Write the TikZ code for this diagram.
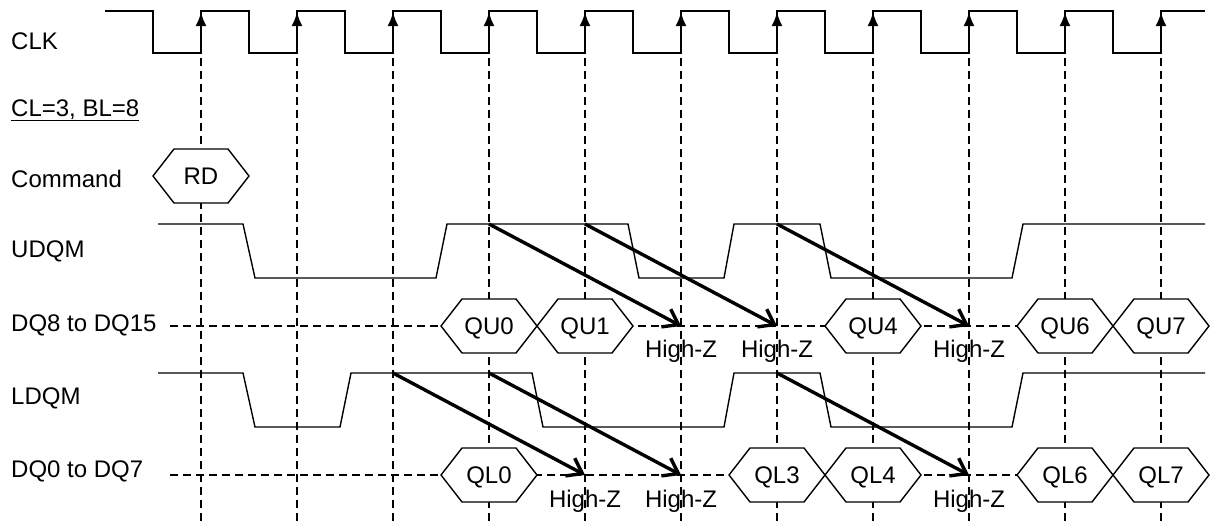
\documentclass[tikz,border=0pt]{standalone}
\usepackage{fontspec}
\setmainfont{Liberation Sans}
\usetikzlibrary{arrows.meta}
\newcommand\hexnode[4]{%
  \draw[hexb] ({#2-48},#3) -- ({#2-27},{#3-27}) -- ({#2+27},{#3-27}) -- ({#2+48},#3) -- ({#2+27},{#3+27}) -- ({#2-27},{#3+27}) -- cycle;
  \node[hext] (#1) at (#2,{#3+8}) {#4};}
\begin{document}
\begin{tikzpicture}[x=1pt,y=-1pt,
  clk/.style={line width=2.4pt},
  sig/.style={line width=1.4pt},
  guide/.style={line width=1.6pt, dash pattern=on 8pt off 5pt},
  hexb/.style={line width=1.4pt, fill=white},
  hext/.style={anchor=base, inner sep=0pt, font=\fontsize{24}{28}\selectfont},
  hz/.style={anchor=base, inner sep=0pt, font=\fontsize{24}{28}\selectfont},
  lbl/.style={anchor=base west, inner sep=0pt, font=\fontsize{24}{28}\selectfont},
  dqarr/.style={line width=3.4pt, -{Straight Barb[length=14pt,width=20pt]}},
  edgearr/.style={line width=2.4pt, -{Latex[length=14pt,width=11pt]}}
]
\useasboundingbox (0,0) rectangle (1210,522);
% labels
\node[lbl] (lclk) at (11,49) {CLK};
\node[lbl] (lcl) at (11,116) {\underline{CL=3, BL=8}};
\node[lbl] (lcmd) at (11,187) {Command};
\node[lbl] (ludqm) at (11,257) {UDQM};
\node[lbl] (ldqh) at (11,331) {DQ8 to DQ15};
\node[lbl] (lldqm) at (11,404) {LDQM};
\node[lbl] (ldql) at (11,477) {DQ0 to DQ7};
% guide lines
\foreach \r in {201,297,...,1161} {
  \coordinate (gt\r) at (\r,58);
  \coordinate (gb\r) at (\r,522);
  \draw[guide] (gt\r) -- (gb\r);
}
% DQ dashed lines
\coordinate (dqhs) at (170,326); \coordinate (dqhe) at (1161,326);
\coordinate (dqls) at (170,475); \coordinate (dqle) at (1161,475);
\draw[guide] (dqhs) -- (dqhe);
\draw[guide] (dqls) -- (dqle);
% CLK
\draw[clk] (105,11) \foreach \r in {201,297,...,1161} { -- ({\r-48},11) -- ({\r-48},53) -- (\r,53) -- (\r,11) } -- (1205,11);
\foreach \r in {201,297,...,1161} {
  \draw[edgearr] (\r,40) -- (\r,12);
}
% UDQM
\draw[sig] (158,224) -- (243,224) -- (255,278) -- (436,278) -- (447,224) -- (628,224) -- (639,278) -- (724,278) -- (734,224) -- (820,224) -- (831,278) -- (1012,278) -- (1023,224) -- (1205,224);
% LDQM
\draw[sig] (158,373) -- (243,373) -- (255,427) -- (340,427) -- (351,373) -- (532,373) -- (543,427) -- (724,427) -- (734,373) -- (820,373) -- (831,427) -- (1012,427) -- (1023,373) -- (1205,373);
% hexagons
\hexnode{rd}{201}{176}{RD}
\hexnode{qu0}{489}{326}{QU0}
\hexnode{qu1}{585}{326}{QU1}
\hexnode{qu4}{873}{326}{QU4}
\hexnode{qu6}{1065}{326}{QU6}
\hexnode{qu7}{1161}{326}{QU7}
\hexnode{ql0}{489}{475}{QL0}
\hexnode{ql3}{777}{475}{QL3}
\hexnode{ql4}{873}{475}{QL4}
\hexnode{ql6}{1065}{475}{QL6}
\hexnode{ql7}{1161}{475}{QL7}
% High-Z labels
\node[hz] (hzu1) at (681,357) {High-Z};
\node[hz] (hzu2) at (777,357) {High-Z};
\node[hz] (hzu3) at (969,357) {High-Z};
\node[hz] (hzl1) at (585,507) {High-Z};
\node[hz] (hzl2) at (681,507) {High-Z};
\node[hz] (hzl3) at (969,507) {High-Z};
% DQM-to-data arrows
\coordinate (ua1) at (489,224); \coordinate (ud1) at (681,326);
\coordinate (ua2) at (585,224); \coordinate (ud2) at (777,326);
\coordinate (ua3) at (777,224); \coordinate (ud3) at (969,326);
\coordinate (la1) at (393,373); \coordinate (ld1) at (585,475);
\coordinate (la2) at (489,373); \coordinate (ld2) at (681,475);
\coordinate (la3) at (777,373); \coordinate (ld3) at (969,475);
\draw[dqarr] (ua1) -- (ud1);
\draw[dqarr] (ua2) -- (ud2);
\draw[dqarr] (ua3) -- (ud3);
\draw[dqarr] (la1) -- (ld1);
\draw[dqarr] (la2) -- (ld2);
\draw[dqarr] (la3) -- (ld3);
\end{tikzpicture}
\end{document}
